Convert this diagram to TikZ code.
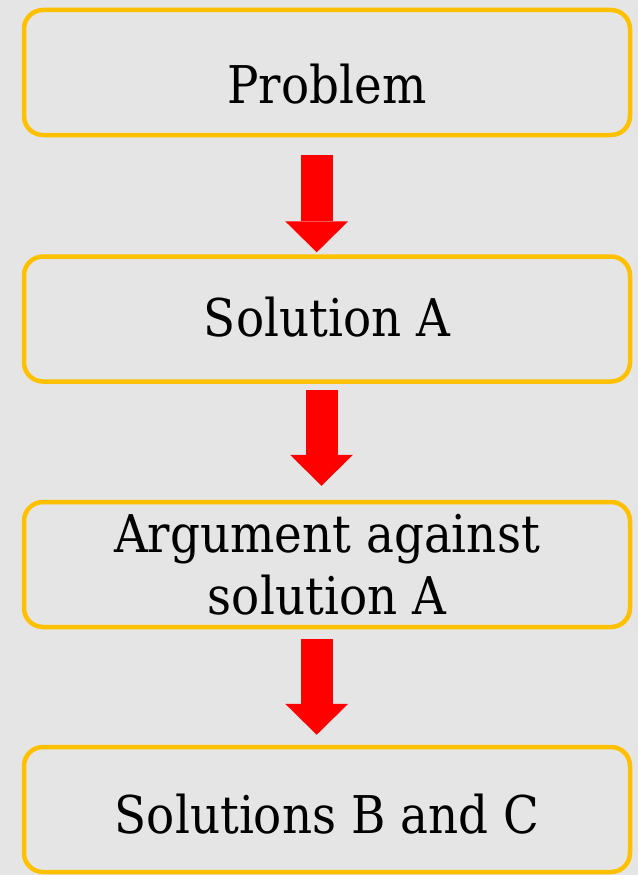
\documentclass[tikz,border=0pt]{standalone}
\usepackage{fontspec}
\setmainfont{DejaVu Serif}[FakeStretch=0.9]
\usetikzlibrary{arrows.meta,positioning}
\definecolor{paper}{RGB}{229,229,229}
\definecolor{gold}{RGB}{255,192,0}
\definecolor{alarm}{RGB}{255,0,0}
\tikzset{
  box/.style={draw=gold,line width=4.5pt,rounded corners=19pt,
    minimum width=606pt,minimum height=125pt,inner sep=0pt,align=center,
    font=\fontsize{52}{62}\selectfont},
  flow/.style={draw=alarm,line width=32pt,line cap=butt,
    -{Triangle[width=63pt,length=31pt,line width=0pt]}},
}
\begin{document}
\begin{tikzpicture}[x=1pt,y=-1pt]
  \fill[paper] (0,0) rectangle (638,875);
  \useasboundingbox (0,0) rectangle (638,875);
  % steps
  \node[box,text height=61pt,text depth=0pt] (prob) at (327,72.5) {Problem};
  \node[box,text height=34pt,text depth=0pt] (solA) at (327,319) {Solution A};
  \node[box] (arg) at (327,564.5) {Argument against\\solution A};
  \node[box,text height=47pt,text depth=0pt] (solBC) at (327,809.5) {Solutions B and C};
  % arrows
  \draw[flow] ([xshift=-10.3pt,yshift=-18pt]prob.south) -- ([xshift=-10.3pt,yshift=2pt]solA.north);
  \draw[flow] ([xshift=-5.5pt,yshift=-6pt]solA.south) -- ([xshift=-5.5pt,yshift=14pt]arg.north);
  \draw[flow] ([xshift=-10.3pt,yshift=-10pt]arg.south) -- ([xshift=-10.3pt,yshift=10pt]solBC.north);
\end{tikzpicture}
\end{document}
